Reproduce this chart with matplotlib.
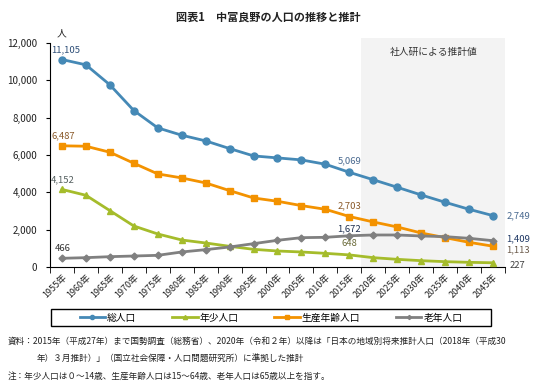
import numpy as np
import matplotlib
matplotlib.use("Agg")
import matplotlib.pyplot as plt
from matplotlib.patches import Rectangle

plt.rcParams['font.family'] = ['Noto Sans CJK JP', 'DejaVu Sans']

years = [str(y) + "年" for y in range(1955, 2050, 5)]
total = [11105, 10820, 9750, 8375, 7446, 7054, 6750, 6339, 5946, 5839, 5732, 5500, 5069,
         4670, 4268, 3857, 3464, 3089, 2749]
young = [4152, 3839, 3018, 2196, 1768, 1446, 1286, 1107, 946, 857, 804, 732, 648,
         500, 411, 339, 286, 250, 227]
working = [6487, 6464, 6143, 5554, 4982, 4768, 4500, 4089, 3696, 3518, 3286, 3089, 2703,
           2411, 2143, 1821, 1571, 1321, 1113]
old = [466, 500, 553, 589, 625, 804, 929, 1071, 1250, 1429, 1571, 1589, 1672,
       1714, 1714, 1661, 1625, 1536, 1409]

c_total = '#4589B6'
c_young = '#A5BC2B'
c_work = '#F39200'
c_old = '#808080'

fig = plt.figure(figsize=(5.37, 3.89), dpi=100)
ax = fig.add_axes([0.0931, 0.3136, 0.8473, 0.5764])

x = np.arange(len(years))

# 推計値の網掛け
ax.add_patch(Rectangle((12.5, 0), 6.0, 12250, facecolor='#F3F3F3', edgecolor='none',
                       clip_on=False, zorder=0))

ax.plot(x, total, color=c_total, lw=2.0, marker='o', ms=5, label='総人口', zorder=3)
ax.plot(x, young, color=c_young, lw=2.0, marker='^', ms=5, label='年少人口', zorder=3)
ax.plot(x, working, color=c_work, lw=2.0, marker='s', ms=5, label='生産年齢人口', zorder=3)
ax.plot(x, old, color=c_old, lw=2.0, marker='D', ms=3.5, label='老年人口', zorder=3)

ax.set_xlim(-0.5, 18.5)
ax.set_ylim(0, 12000)
ax.set_yticks(range(0, 12001, 2000))
ax.set_yticklabels([f"{v:,}" for v in range(0, 12001, 2000)], fontsize=7, color='#222222')
ax.set_xticks(x)
ax.set_xticklabels(years, rotation=45, ha='right', rotation_mode='anchor', fontsize=6.5,
                   color='#222222')
ax.tick_params(axis='x', length=0, pad=4)
ax.set_xticks(np.arange(-0.5, 19, 1), minor=True)
ax.tick_params(axis='x', which='minor', length=4, direction='out')
ax.tick_params(axis='y', length=3, direction='out', pad=6)
ax.spines['top'].set_visible(False)
ax.spines['right'].set_visible(False)

fs = 6.8
ax.text(-0.45, 11105 + 300, "11,105", fontsize=fs, color='#2E4F78', va='bottom')
ax.text(-0.45, 6487 + 300, "6,487", fontsize=fs, color='#8A5A2A', va='bottom')
ax.text(-0.45, 4152 + 300, "4,152", fontsize=fs, color='#556060', va='bottom')
ax.text(-0.3, 466 + 300, "466", fontsize=fs, color='#333333', va='bottom')
ax.text(12, 5069 + 350, "5,069", fontsize=fs, color='#4A6A90', va='bottom', ha='center')
ax.text(12, 2703 + 350, "2,703", fontsize=fs, color='#8A5A2A', va='bottom', ha='center')
ax.text(12, 1672 + 120, "1,672", fontsize=fs, color='#1F3050', va='bottom', ha='center')
ax.text(12, 648 + 350, "648", fontsize=fs, color='#6B6B3A', va='bottom', ha='center')
ax.text(18.55, 2749, "2,749", fontsize=fs, color='#4A6A90', va='center')
ax.text(18.55, 1409 + 80, "1,409", fontsize=fs, color='#1F3864', va='center')
ax.text(18.55, 1113 - 200, "1,113", fontsize=fs, color='#6B5A4A', va='center')
ax.text(18.7, 227 - 120, "227", fontsize=fs, color='#404040', va='center')

ax.text(15.5, 11500, "社人研による推計値", fontsize=7, color='#333333', ha='center', va='center')
ax.text(0, 12250, "人", fontsize=7, color='#222222', ha='center', va='bottom')

fig.text(0.5, 0.955, "図表1　中富良野の人口の推移と推計", fontsize=8, ha='center', va='center',
         color='#222222', fontweight='bold')

# 凡例（枠は別に描く）
fig.patches.append(Rectangle((51 / 537, 1 - 326 / 389), 440 / 537, 17 / 389,
                             transform=fig.transFigure, facecolor='none',
                             edgecolor='black', lw=1.0))
leg = fig.legend(loc='center', bbox_to_anchor=(0.5049, 0.1838), ncol=4, fontsize=7,
                 frameon=False, columnspacing=3.7,
                 handlelength=2.6, handletextpad=0.2, borderpad=0.2, markerscale=0.6,
                 borderaxespad=0)
for h in leg.get_lines():
    h.set_linewidth(2.0)

fig.text(0.015, 0.122, "資料：2015年（平成27年）まで国勢調査（総務省）、2020年（令和２年）以降は「日本の地域別将来推計人口（2018年（平成30",
         fontsize=6.2, color='#222222', va='center')
fig.text(0.069, 0.080, "年）３月推計）」（国立社会保障・人口問題研究所）に準拠した推計",
         fontsize=6.2, color='#222222', va='center')
fig.text(0.015, 0.033, "注：年少人口は０～14歳、生産年齢人口は15～64歳、老年人口は65歳以上を指す。",
         fontsize=6.2, color='#222222', va='center')

fig.savefig("out.png", dpi=100)
